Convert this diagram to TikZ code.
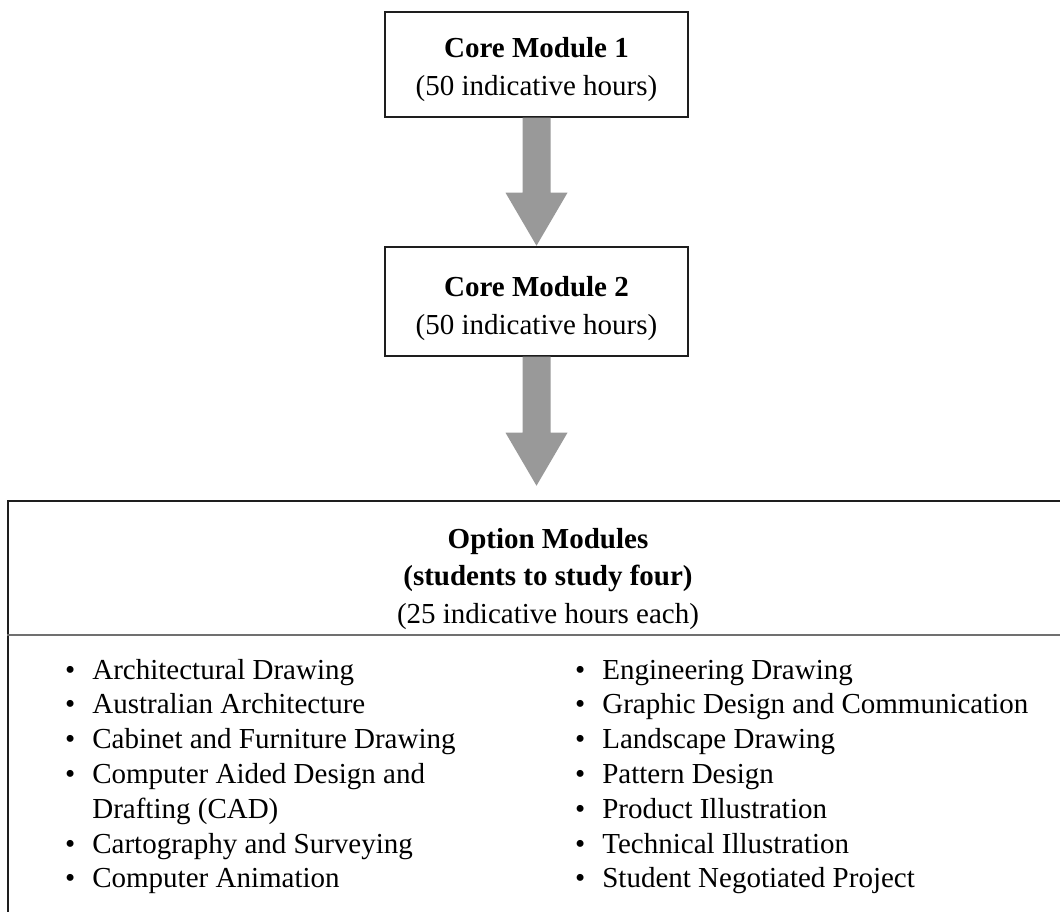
\documentclass[tikz,border=0pt]{standalone}
\usepackage{fontspec}
\setmainfont{Liberation Serif}
\usetikzlibrary{calc}
\definecolor{arrowgray}{RGB}{153,153,153}
\definecolor{sepgray}{RGB}{112,112,112}
\definecolor{boxline}{RGB}{30,30,30}
\begin{document}
\begin{tikzpicture}[x=1pt,y=-1pt,
  corebox/.style={draw=boxline, line width=1.4pt, fill=white, minimum width=303pt, inner sep=0pt},
  bigarrow/.style={fill=arrowgray},
  coretext/.style={align=center, inner sep=0pt, font=\fontsize{29}{38}\selectfont},
  titletext/.style={align=center, inner sep=0pt, font=\fontsize{29}{37.5}\selectfont},
  listtext/.style={anchor=base west, inner sep=0pt, font=\fontsize{29}{34.8}\selectfont},
]
\useasboundingbox (0,0) rectangle (1060,912);
\fill[white] (0,0) rectangle (1060,912);

\node[corebox, minimum height=105pt] (c1) at (536.5,64.5) {};
\node[coretext] (c1t) at ($(c1.center)+(0,5)$) {\textbf{Core Module 1}\\(50 indicative hours)};
\node[corebox, minimum height=109pt] (c2) at (536.5,301.5) {};
\node[coretext] (c2t) at ($(c2.center)+(0,7)$) {\textbf{Core Module 2}\\(50 indicative hours)};
\node[draw=boxline, line width=1.5pt, minimum width=1083pt, minimum height=440pt, anchor=north west, inner sep=0pt] (opt) at (7,500) {};

\fill[bigarrow] (c1.south) ++(-14,0) -- ++(0,75) -- ++(-17,0) -- ++(31,53) -- ++(31,-53) -- ++(-17,0) -- ++(0,-75) -- cycle;
\fill[bigarrow] (c2.south) ++(-14,0) -- ++(0,76) -- ++(-17,0) -- ++(31,53) -- ++(31,-53) -- ++(-17,0) -- ++(0,-76) -- cycle;

\draw[sepgray, line width=1.4pt] (opt.north west) ++(0,135) coordinate (sepL) -- ++(1083,0) coordinate (sepR);

\node[titletext] (title) at (548,579) {\textbf{Option Modules}\\\textbf{(students to study four)}\\(25 indicative hours each)};

\node[listtext] (left) at (65,679) {\begin{tabular}[t]{@{}l@{\hspace{17pt}}l@{}}
\textbullet & Architectural Drawing\\
\textbullet & Australian Architecture\\
\textbullet & Cabinet and Furniture Drawing\\
\textbullet & Computer Aided Design and\\
 & Drafting (CAD)\\
\textbullet & Cartography and Surveying\\
\textbullet & Computer Animation
\end{tabular}};

\node[listtext] (right) at (575,679) {\begin{tabular}[t]{@{}l@{\hspace{17pt}}l@{}}
\textbullet & Engineering Drawing\\
\textbullet & Graphic Design and Communication\\
\textbullet & Landscape Drawing\\
\textbullet & Pattern Design\\
\textbullet & Product Illustration\\
\textbullet & Technical Illustration\\
\textbullet & Student Negotiated Project
\end{tabular}};
\end{tikzpicture}
\end{document}
